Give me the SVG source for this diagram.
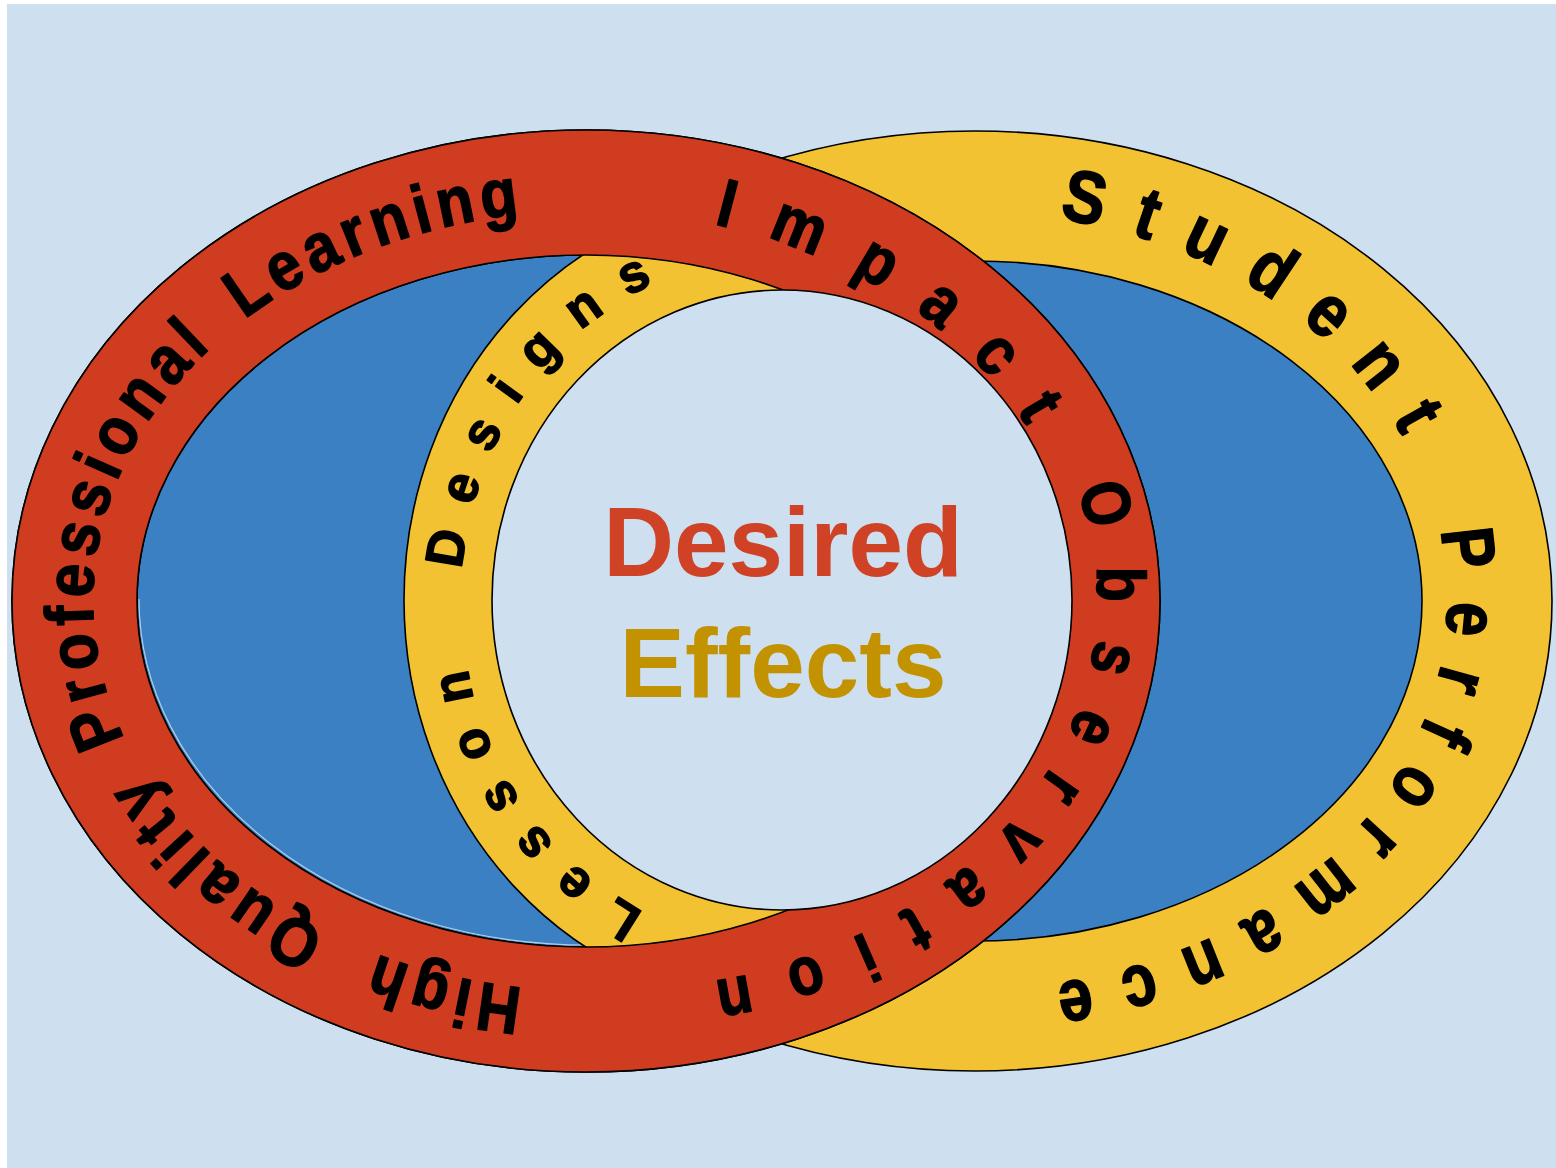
<svg xmlns="http://www.w3.org/2000/svg" width="1556" height="1168" viewBox="0 0 1556 1168">
<style>
.ln{stroke:#000;stroke-width:1.6}
.rt{font-family:"Liberation Sans",Arial,sans-serif;font-weight:bold;fill:#000;stroke:#000;stroke-width:1.6;stroke-linejoin:round;text-anchor:middle}
.big{font-family:"Liberation Sans",Arial,sans-serif;font-weight:bold;font-size:98px;text-anchor:middle}
</style>
<defs>
<path id="pr" d="M586,991 A493,390 0 1,1 586,211 A493,390 0 1,1 586,991"/>
<path id="pr2" d="M604,991 A493,390 0 1,1 604,211 A493,390 0 1,1 604,991"/>
<path id="py" d="M503,601 A472,388 0 1,1 1447,601 A472,388 0 1,1 503,601"/>
<path id="pc" d="M782,945 A321,345 0 1,1 782,255 A321,345 0 1,1 782,945"/>
<clipPath id="redclip"><ellipse cx="586" cy="601" rx="574" ry="471"/></clipPath>
</defs>
<rect x="0" y="0" width="1556" height="1168" fill="#ffffff"/>
<rect x="7" y="4" width="1549" height="1164" fill="#cee0f0"/>

<g id="student-performance-ring">
<ellipse class="ln" cx="975" cy="601" rx="577" ry="470" fill="#f2c232"/>
<ellipse class="ln" cx="975" cy="601" rx="447" ry="340" fill="#3b80c3"/>
</g>
<g id="professional-learning-ring-fill">
<ellipse class="ln" cx="586" cy="601" rx="574" ry="471" fill="#d03c20"/>
<ellipse class="ln" cx="586" cy="601" rx="449" ry="346" fill="#3b80c3"/>
<path d="M137,601 A449,346 0 0,0 586,947" fill="none" stroke="#ffffff" stroke-opacity="0.6" stroke-width="1.2" transform="translate(2,-2)"/>
</g>
<g id="lesson-designs-ring">
<ellipse class="ln" cx="782" cy="600" rx="378" ry="406" fill="#f2c232" clip-path="url(#redclip)"/>
</g>
<g id="professional-learning-ring">
<path class="ln" fill="#d03c20" fill-rule="evenodd" d="M12,601 A574,471 0 1,0 1160,601 A574,471 0 1,0 12,601 Z M137,601 A449,346 0 1,0 1035,601 A449,346 0 1,0 137,601 Z"/>
</g>
<g id="desired-effects">
<ellipse class="ln" cx="782" cy="600" rx="290" ry="310" fill="#cee0f0"/>
<text class="big" x="783" y="576" fill="#cf4226">Desired</text>
<text class="big" x="783" y="697" fill="#c39200">Effects</text>
</g>

<g id="ring-labels">
<text class="rt" font-size="68" letter-spacing="7"><textPath href="#pr" startOffset="141" textLength="156" lengthAdjust="spacingAndGlyphs">High</textPath></text>
<text class="rt" font-size="68" letter-spacing="7"><textPath href="#pr" startOffset="394" textLength="252" lengthAdjust="spacingAndGlyphs">Quality</textPath></text>
<text class="rt" font-size="68" letter-spacing="7"><textPath href="#pr" startOffset="771" textLength="436" lengthAdjust="spacingAndGlyphs">Professional</textPath></text>
<text class="rt" font-size="68" letter-spacing="7"><textPath href="#pr" startOffset="1179" textLength="304" lengthAdjust="spacingAndGlyphs">Learning</textPath></text>
<text class="rt" font-size="68" letter-spacing="43"><textPath href="#pr" startOffset="1730" textLength="420" lengthAdjust="spacingAndGlyphs">Impact</textPath></text>
<text class="rt" font-size="68" letter-spacing="43"><textPath href="#pr2" startOffset="2340" textLength="737" lengthAdjust="spacingAndGlyphs">Observation</textPath></text>
<text class="rt" font-size="74" letter-spacing="35"><textPath href="#py" startOffset="986.5" textLength="451" lengthAdjust="spacingAndGlyphs">Student</textPath></text>
<text class="rt" font-size="74" letter-spacing="35"><textPath href="#py" startOffset="1631" textLength="696" lengthAdjust="spacingAndGlyphs">Performance</textPath></text>
<text class="rt" font-size="53" letter-spacing="27"><textPath href="#pc" startOffset="311.5" textLength="337" lengthAdjust="spacingAndGlyphs">Lesson</textPath></text>
<text class="rt" font-size="53" letter-spacing="27"><textPath href="#pc" startOffset="746.5" textLength="386" lengthAdjust="spacingAndGlyphs">Designs</textPath></text>
</g>
</svg>
